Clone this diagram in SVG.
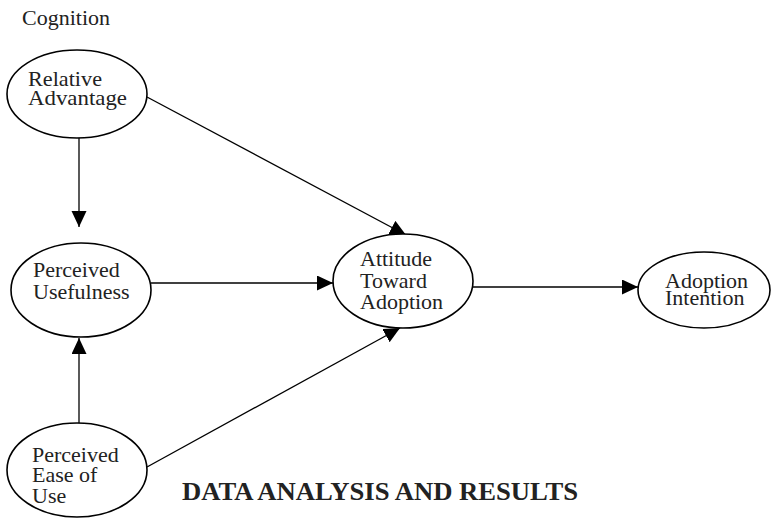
<svg xmlns="http://www.w3.org/2000/svg" width="771" height="519" viewBox="0 0 771 519">
<style>
.node ellipse{fill:#fff;stroke:#000;stroke-width:1.6}
.lbl{font-family:"Liberation Serif","Times New Roman",serif;font-size:22px;fill:#222}
.conn line{stroke:#000;stroke-width:1.3}
</style>
<defs>
<marker id="arr" markerUnits="userSpaceOnUse" markerWidth="17" markerHeight="16" refX="16" refY="7.5" orient="auto">
<path d="M0,0 L16,7.5 L0,15 z" fill="#000"/>
</marker>
</defs>
<rect width="771" height="519" fill="#fff"/>
<text class="lbl" x="22" y="25">Cognition</text>
<g class="conn" id="connectors">
<line x1="147" y1="97" x2="406" y2="235" marker-end="url(#arr)"/>
<line x1="79" y1="138" x2="79" y2="227" marker-end="url(#arr)"/>
<line x1="151" y1="283" x2="333" y2="283" marker-end="url(#arr)"/>
<line x1="79" y1="423" x2="79" y2="338" marker-end="url(#arr)"/>
<line x1="147" y1="467" x2="400" y2="328" marker-end="url(#arr)"/>
<line x1="473" y1="287" x2="638" y2="287" marker-end="url(#arr)"/>
</g>
<g class="node" id="relative-advantage">
<ellipse cx="77" cy="94" rx="70" ry="44"/>
<text class="lbl" x="28" y="86" textLength="74" lengthAdjust="spacingAndGlyphs">Relative</text>
<text class="lbl" x="28" y="105" textLength="99" lengthAdjust="spacingAndGlyphs">Advantage</text>
</g>
<g class="node" id="perceived-usefulness">
<ellipse cx="81" cy="290" rx="70" ry="47"/>
<text class="lbl" x="33" y="277">Perceived</text>
<text class="lbl" x="33" y="299">Usefulness</text>
</g>
<g class="node" id="perceived-ease-of-use">
<ellipse cx="77" cy="470" rx="70" ry="47"/>
<text class="lbl" x="32" y="462">Perceived</text>
<text class="lbl" x="32" y="482">Ease of</text>
<text class="lbl" x="32" y="503">Use</text>
</g>
<g class="node" id="attitude-toward-adoption">
<ellipse cx="403" cy="281" rx="70" ry="47"/>
<text class="lbl" x="360" y="266">Attitude</text>
<text class="lbl" x="360" y="288">Toward</text>
<text class="lbl" x="360" y="309">Adoption</text>
</g>
<g class="node" id="adoption-intention">
<ellipse cx="704" cy="290" rx="66" ry="38"/>
<text class="lbl" x="665" y="288">Adoption</text>
<text class="lbl" x="665" y="305">Intention</text>
</g>
<text x="182" y="500" textLength="396" lengthAdjust="spacingAndGlyphs" style="font-family:'Liberation Serif','Times New Roman',serif;font-size:26px;font-weight:bold;fill:#222">DATA ANALYSIS AND RESULTS</text>
</svg>
